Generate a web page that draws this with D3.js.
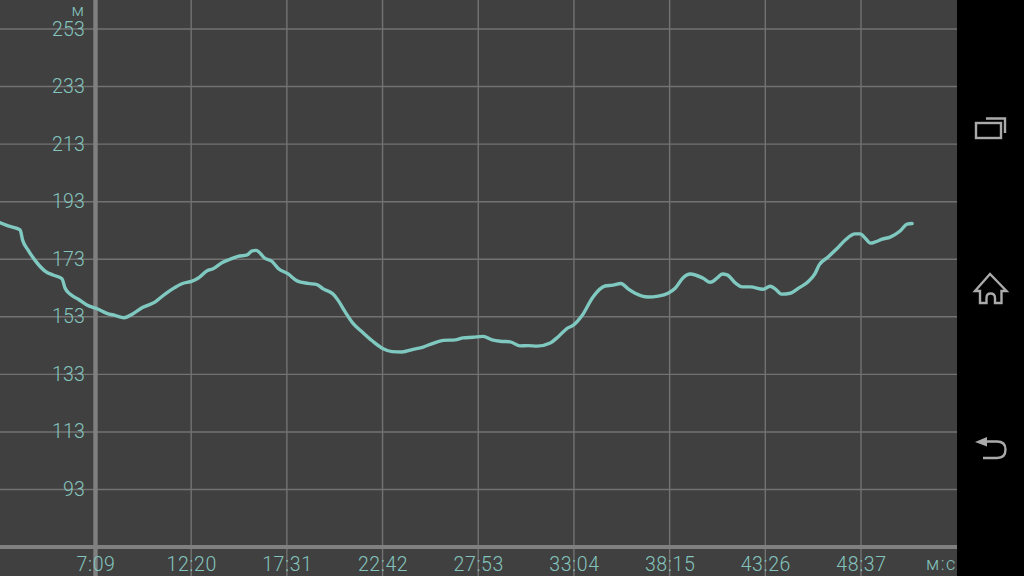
<!DOCTYPE html>
<html><head><meta charset="utf-8">
<script src="https://d3js.org/d3.v7.min.js"></script>
<style>html,body{margin:0;padding:0;background:#000;overflow:hidden}svg{display:block}text{font-family:Roboto,sans-serif;font-weight:300}</style>
</head><body><svg id="c" width="1024" height="576"></svg>
<script>
const seconds=[119,145,184,192,210,232,265,291,320,330,346,372,401,434,466,492,522,551,583,622,655,681,710,743,762,792,811,840,866,892,922,938,951,980,1003,1022,1055,1084,1120,1149,1169,1201,1217,1240,1266,1295,1328,1364,1393,1425,1461,1494,1526,1559,1598,1624,1656,1689,1718,1744,1777,1809,1835,1864,1907,1933,1962,1981,2011,2046,2085,2111,2137,2160,2183,2225,2258,2290,2313,2339,2362,2404,2427,2450,2466,2482,2508,2531,2557,2599,2622,2638,2658,2687,2713,2745,2768,2781,2807,2840,2866,2898,2914,2931,2947,2963,2986,3012,3044,3067,3083];
const metres=[185.7,184.6,183.2,179.7,176.2,172.7,168.9,167.5,166.2,163.0,160.9,159.2,157.1,155.8,154.2,153.5,152.7,154.1,156.3,158.1,160.9,162.8,164.5,165.4,166.4,169.0,169.7,171.8,173.0,174.0,174.5,175.9,176.1,173.3,172.2,169.9,167.9,165.5,164.6,164.2,162.7,160.9,158.8,154.8,150.7,147.8,144.7,141.9,140.9,140.8,141.7,142.5,143.8,144.8,145.0,145.7,145.9,146.2,145.0,144.5,144.3,142.9,143.0,142.8,143.9,146.1,149.0,150.0,153.5,159.9,163.7,164.0,164.6,162.7,161.2,159.9,160.2,161.2,162.9,166.6,167.9,166.4,165.0,166.5,167.9,167.6,164.8,163.4,163.4,162.6,163.6,162.7,160.9,161.2,162.9,165.2,168.1,171.0,173.5,176.8,179.7,181.8,181.8,180.3,178.6,179.0,180.0,180.7,182.8,185.2,185.4];
const yTicks=[253,233,213,193,173,153,133,113,93];
const xTickSeconds=[429,740,1051,1362,1673,1984,2295,2606,2917];
const xTickLabels=["7:09","12:20","17:31","22:42","27:53","33:04","38:15","43:26","48:37"];
const xUnit="м:с", yUnit="м";

const W=1024,H=576,plotR=957,baseY=547;
const x=d3.scaleLinear().domain([429,2917]).range([95.5,861]);
const y=d3.scaleLinear().domain([253,93]).range([29,489.5]);
const svg=d3.select("#c");
svg.append("rect").attr("width",W).attr("height",H).attr("fill","#000");
svg.append("rect").attr("width",plotR).attr("height",H).attr("fill","#404040");

const gridCol="#727272", thick="#808080", textCol="#84c4be", lineCol="#80c9c1";

const grid=svg.append("g");
grid.selectAll("line.h").data(yTicks).join("line").attr("class","h")
  .attr("x1",0).attr("x2",plotR).attr("y1",d=>y(d)).attr("y2",d=>y(d))
  .attr("stroke",gridCol).attr("stroke-width",1.4);
grid.selectAll("line.v").data(xTickSeconds.slice(1)).join("line").attr("class","v")
  .attr("x1",d=>x(d)).attr("x2",d=>x(d)).attr("y1",0).attr("y2",H)
  .attr("stroke",gridCol).attr("stroke-width",1.4);
grid.append("line").attr("x1",x(429)).attr("x2",x(429)).attr("y1",0).attr("y2",H)
  .attr("stroke",thick).attr("stroke-width",4.4);
grid.append("line").attr("x1",0).attr("x2",plotR).attr("y1",baseY).attr("y2",baseY)
  .attr("stroke",thick).attr("stroke-width",4);

const gy=svg.append("g")
  .call(d3.axisLeft(y).tickValues(yTicks).tickSize(0).tickPadding(0).tickFormat(d3.format("d")));
gy.select(".domain").remove();
gy.selectAll("text").attr("x",85).attr("dy",null).attr("y",-0.5)
  .attr("dominant-baseline","central").attr("text-anchor","end")
  .attr("font-size",19.5).attr("letter-spacing",0.2).attr("fill",textCol).style("font-family","Roboto,sans-serif").style("font-weight",300);

const gx=svg.append("g").attr("transform","translate(0,570.500)")
  .call(d3.axisBottom(x).tickValues(xTickSeconds).tickSize(0).tickPadding(0).tickFormat((d,i)=>xTickLabels[i]));
gx.select(".domain").remove();
gx.selectAll("text").attr("y",0).attr("dy",null).attr("text-anchor","middle")
  .attr("font-size",19.5).attr("letter-spacing",0.6).attr("fill",textCol).style("font-family","Roboto,sans-serif").style("font-weight",300);

svg.append("text").attr("x",84).attr("y",16).attr("text-anchor","end").attr("font-size",17).attr("fill",textCol).text(yUnit);
svg.append("text").attr("x",957).attr("y",570).attr("text-anchor","end").attr("font-size",18).attr("letter-spacing",1.6).attr("fill",textCol).text(xUnit);

const line=d3.line().x(d=>x(d[0])).y(d=>y(d[1])).curve(d3.curveMonotoneX);
svg.append("path").attr("d",line(d3.zip(seconds,metres))).attr("fill","none")
  .attr("stroke",lineCol).attr("stroke-width",3.4).attr("stroke-linejoin","round").attr("stroke-linecap","round");

const icon=svg.append("g").attr("fill","none").attr("stroke","#aaaaaa").attr("stroke-width",2.4);
icon.append("rect").attr("x",976).attr("y",123).attr("width",25).attr("height",15);
icon.append("path").attr("d","M986 118.500H1005V133");
icon.append("path").attr("d","M990 274L975 291H980V303H986.500V298Q986.500 293.500 990.500 293.500Q995 293.500 995 298V303H1001.500V291H1006.500Z");
icon.append("path").attr("d","M986 441.500H997Q1005.500 441.500 1005.500 449.500Q1005.500 458 997 458H983");
svg.append("path").attr("d","M975 442L987 437V446.500Z").attr("fill","#aaaaaa");
</script></body></html>
